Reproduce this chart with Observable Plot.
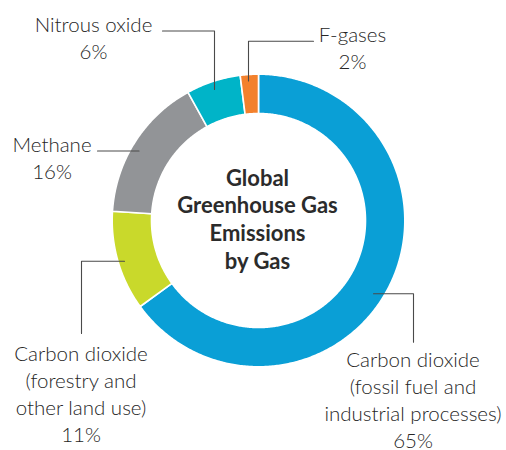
<!DOCTYPE html>
<html>
<head>
<meta charset="utf-8">
<script src="https://cdn.jsdelivr.net/npm/d3@7"></script>
<script src="https://cdn.jsdelivr.net/npm/@observablehq/plot@0.6"></script>
<style>
  html, body { margin: 0; padding: 0; background: #fff; }
  #chart svg { display: block; }
</style>
</head>
<body>
<div id="chart"></div>
<script>
// ---------- data ----------
const gasKeys = ["CO2 fossil", "CO2 land", "Methane", "N2O", "F-gases"];
const gasLines = [
  ["Carbon dioxide", "(fossil fuel and", "industrial processes)"],
  ["Carbon dioxide", "(forestry and", "other land use)"],
  ["Methane"],
  ["Nitrous oxide"],
  ["F-gases"]
];
const shares = [65, 11, 16, 6, 2];
const gasColors = ["#0a9fd6", "#c9d92b", "#929497", "#00b4c8", "#f3812d"];
const centerTitle = ["Global", "Greenhouse Gas", "Emissions", "by Gas"];

// ---------- layout (pixels) ----------
const W = 506, H = 450;
const ring = {cx: 258, cy: 220, outer: 146.3, inner: 107};
const labelPos = [
  {x: 412.5, y: 366.8},
  {x: 80.5, y: 360.7},
  {x: 51.5, y: 151.7},
  {x: 93, y: 31.5},
  {x: 352, y: 41.7}
];
const lineStep = 26.8;
const leaders = [
  [[373, 293.3], [413, 293.3], [413, 341.7]],
  [[124, 260.7], [81, 260.7], [81, 333]],
  [[97, 150.5], [138.5, 150.5]],
  [[162, 30.5], [214, 30.5], [214, 89]],
  [[313, 40.7], [248, 40.7], [248, 80.5]]
];
const titlePos = {x: 257, y: 185, step: 27.8};

// ---------- derived ----------
const arcs = d3.pie().sort(null).value(d => d)(shares);
const slices = arcs.map((a, i) => {
  const pts = [];
  const n = Math.max(4, Math.ceil((a.endAngle - a.startAngle) / 0.01));
  for (let k = 0; k <= n; k++) {
    const t = a.startAngle + (a.endAngle - a.startAngle) * k / n;
    pts.push([ring.cx + ring.outer * Math.sin(t), ring.cy - ring.outer * Math.cos(t)]);
  }
  for (let k = n; k >= 0; k--) {
    const t = a.startAngle + (a.endAngle - a.startAngle) * k / n;
    pts.push([ring.cx + ring.inner * Math.sin(t), ring.cy - ring.inner * Math.cos(t)]);
  }
  pts.push(pts[0]);
  return {type: "Feature", properties: {gas: gasKeys[i]}, geometry: {type: "Polygon", coordinates: [pts]}};
});

const labelRows = [];
gasKeys.forEach((g, i) => {
  const lines = [...gasLines[i], shares[i] + "%"];
  lines.forEach((t, j) => labelRows.push({gas: g, text: t, x: labelPos[i].x, y: labelPos[i].y + j * lineStep}));
});

const leaderRows = [];
leaders.forEach((pts, i) => pts.forEach(([x, y]) => leaderRows.push({gas: gasKeys[i], x, y})));

const titleRows = centerTitle.map((t, j) => ({text: t, x: titlePos.x, y: titlePos.y + j * titlePos.step}));

const chart = Plot.plot({
  width: W,
  height: H,
  margin: 0,
  projection: d3.geoIdentity(),
  color: {domain: gasKeys, range: gasColors},
  style: {fontFamily: "Lato, 'Open Sans', sans-serif", background: "#fff", overflow: "visible"},
  marks: [
    Plot.geo(slices, {fill: d => d.properties.gas, stroke: "#fff", strokeWidth: 1.6}),
    Plot.line(leaderRows, {x: "x", y: "y", z: "gas", stroke: "#4a4a4a", strokeWidth: 1.1, curve: "linear"}),
    Plot.text(labelRows, {x: "x", y: "y", text: "text", textAnchor: "middle", lineAnchor: "bottom",
      fontSize: 20.5, fontWeight: 300, fill: "#262626"}),
    Plot.text(titleRows, {x: "x", y: "y", text: "text", textAnchor: "middle", lineAnchor: "bottom",
      fontSize: 22, fontWeight: 700, fill: "#2b2b2b"})
  ]
});
document.getElementById("chart").appendChild(chart);
</script>
</body>
</html>
